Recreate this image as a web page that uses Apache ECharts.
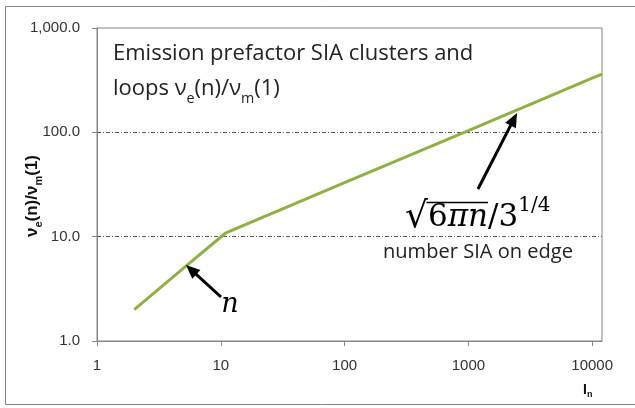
<!DOCTYPE html>
<html>
<head>
<meta charset="utf-8">
<script src="https://cdn.jsdelivr.net/npm/echarts@6/dist/echarts.min.js"></script>
<style>
html,body{margin:0;padding:0;background:#fff;}
#chart{width:635px;height:408px;}
</style>
</head>
<body>
<div id="chart"></div>
<script>
// Data (log-log)
const clusterSize = [2, 5, 11, 100, 1000, 10000, 12000];
const prefactorRatio = [2, 5, 10.9, 33, 104, 330, 362];
const xTickLabels = ['1', '10', '100', '1000', '10000'];
const yTickLabels = ['1.0', '10.0', '100.0', '1,000.0'];

const chart = echarts.init(document.getElementById('chart'), null, {renderer: 'canvas'});
const GRAY = '#868686';
const TXT = '#333333';

const mctx = document.createElement('canvas').getContext('2d');
function measure(font, s) { mctx.font = font; return mctx.measureText(s).width; }
function fitSize(family, s, target) { return 20 * target / measure('20px ' + family, s); }

const TFONT = '"Open Sans"';
const titleSize = Math.min(22, fitSize(TFONT, 'Emission prefactor SIA clusters and', 367));
const noteSize = Math.min(21, fitSize(TFONT, 'number SIA on edge', 190));

// formula pieces
const FX = 405, FTOP = 196, FLH = 44;
const rSize = 36, mSize = 31, pSize = 20;
const wR = measure(rSize + 'px "DejaVu Serif"', '√');
const w6 = measure(mSize + 'px "DejaVu Serif"', '6');
const wPN = measure('italic ' + mSize + 'px "DejaVu Serif"', 'πn');

function arrow(x1, y1, x2, y2) {
  const dx = x2 - x1, dy = y2 - y1, L = Math.hypot(dx, dy);
  const ux = dx / L, uy = dy / L, px = -uy, py = ux;
  const hl = 14, hw = 6;
  const bx = x2 - ux * hl, by = y2 - uy * hl;
  return [
    {type: 'line', shape: {x1: x1, y1: y1, x2: x2 - ux * 8, y2: y2 - uy * 8}, style: {stroke: '#000', lineWidth: 3}, z: 100},
    {type: 'polygon', shape: {points: [[x2, y2], [bx + px * hw, by + py * hw], [bx - px * hw, by - py * hw]]}, style: {fill: '#000'}, z: 100}
  ];
}

const option = {
  animation: false,
  backgroundColor: '#fff',
  grid: {left: 97, top: 28, right: 33, bottom: 67, show: true, borderColor: GRAY, borderWidth: 1},
  xAxis: {
    type: 'log', logBase: 10, min: 1, max: 12000,
    axisLine: {show: true, lineStyle: {color: GRAY}},
    axisTick: {show: true, inside: false, length: 5, lineStyle: {color: GRAY}},
    axisLabel: {
      color: TXT, fontSize: 15, fontFamily: 'Liberation Sans, Arial', margin: 17,
      showMaxLabel: false,
      formatter: function (v) { const e = Math.round(Math.log10(v)); return xTickLabels[e] !== undefined ? xTickLabels[e] : ''; }
    },
    splitLine: {show: false}
  },
  yAxis: {
    type: 'log', logBase: 10, min: 1, max: 1000,
    axisLine: {show: true, lineStyle: {color: GRAY}},
    axisTick: {show: true, inside: false, length: 5, lineStyle: {color: GRAY}},
    axisLabel: {
      color: TXT, fontSize: 15, fontFamily: 'Liberation Sans, Arial', margin: 17,
      formatter: function (v) { const e = Math.round(Math.log10(v)); return yTickLabels[e] !== undefined ? yTickLabels[e] : ''; }
    },
    splitLine: {show: true, showMinLine: false, showMaxLine: false, lineStyle: {color: '#555', width: 1, type: [4, 2, 1, 2]}}
  },
  series: [{
    type: 'line',
    data: clusterSize.map((x, i) => [x, prefactorRatio[i]]),
    showSymbol: false, symbol: 'none',
    lineStyle: {color: '#8fb043', width: 3},
    z: 5
  }],
  graphic: [
    {type: 'rect', shape: {x: 5.5, y: 6.5, width: 700, height: 398}, style: {fill: null, stroke: GRAY, lineWidth: 1}, z: -1, silent: true},
    {type: 'text', left: 113, top: 36, z: 100, style: {
      text: 'Emission prefactor SIA clusters and\nloops {t|ν}{s|e}{t|(n)/ν}{s|m}{t|(1)}',
      font: titleSize + 'px ' + TFONT, fill: '#222', lineHeight: 35,
      rich: {t: {fontSize: titleSize, lineHeight: 35, fontFamily: 'Open Sans'}, s: {fontSize: titleSize * 0.65, lineHeight: 17, verticalAlign: 'bottom', fontFamily: 'Open Sans'}}
    }},
    {type: 'text', x: 32, y: 196, rotation: Math.PI / 2, z: 100, style: {
      text: '{t|ν}{s|e}{t|(n)/ν}{s|m}{t|(1)}', align: 'center', verticalAlign: 'middle',
      font: 'bold 17px "Liberation Sans", Arial', fill: '#111',
      rich: {t: {fontSize: 17, fontWeight: 'bold', lineHeight: 24, fontFamily: 'Liberation Sans'}, s: {fontSize: 11, fontWeight: 'bold', lineHeight: 13, verticalAlign: 'bottom', fontFamily: 'Liberation Sans'}}
    }},
    {type: 'text', left: 583, top: 383, z: 100, style: {
      text: '{t|I}{s|n}', font: 'bold 14px "Liberation Sans"', fill: '#111',
      rich: {t: {fontSize: 14, fontWeight: 'bold', lineHeight: 18}, s: {fontSize: 9, fontWeight: 'bold', lineHeight: 10, verticalAlign: 'bottom'}}
    }},
    {type: 'text', x: 230, y: 305, z: 100, style: {
      text: 'n', align: 'center', verticalAlign: 'middle', font: 'italic 27px "DejaVu Serif"', fill: '#000'
    }},
    {type: 'text', left: FX, top: FTOP, z: 100, style: {
      text: '{r|√}{u|6}{i|πn}{u|/3}{p|1/4}',
      font: mSize + 'px "DejaVu Serif"', fill: '#000', lineHeight: FLH,
      rich: {
        r: {fontSize: rSize, fontFamily: 'DejaVu Serif', lineHeight: FLH},
        u: {fontSize: mSize, fontFamily: 'DejaVu Serif', lineHeight: FLH},
        i: {fontSize: mSize, fontFamily: 'DejaVu Serif', fontStyle: 'italic', lineHeight: FLH},
        p: {fontSize: pSize, fontFamily: 'DejaVu Serif', lineHeight: 32, verticalAlign: 'top'}
      }
    }},
    {type: 'line', shape: {x1: FX + wR - 1.5, y1: 202.5, x2: FX + wR + w6 + wPN, y2: 202.5}, style: {stroke: '#000', lineWidth: 1.6}, z: 100},
    {type: 'text', left: 383, top: 242, z: 100, style: {
      text: 'number SIA on edge', font: noteSize + 'px ' + TFONT, fill: '#222'
    }}
  ].concat(arrow(478, 189, 517, 113), arrow(221, 297, 186, 265))
};
chart.setOption(option);
</script>
</body>
</html>
